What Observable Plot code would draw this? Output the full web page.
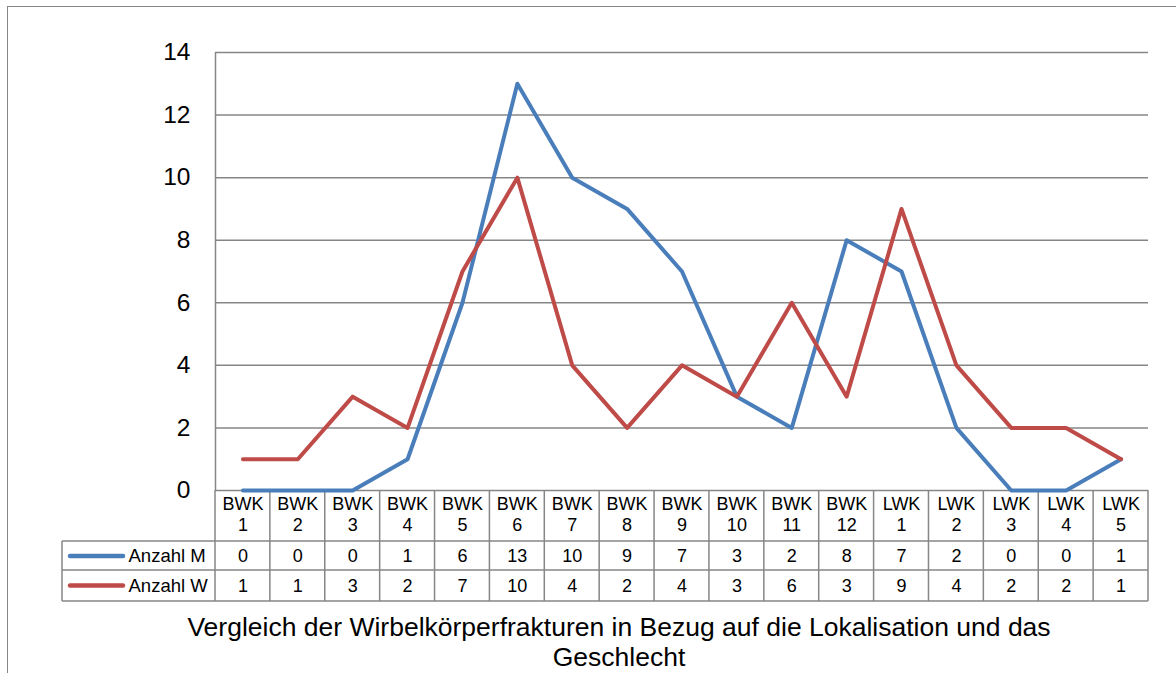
<!DOCTYPE html>
<html>
<head>
<meta charset="utf-8">
<script src="https://cdn.jsdelivr.net/npm/d3@7"></script>
<script src="https://cdn.jsdelivr.net/npm/@observablehq/plot@0.6"></script>
<style>
  body { margin: 0; background: #fff; font-family: "Liberation Sans", Arial, sans-serif; }
  #wrap { position: relative; width: 1176px; height: 673px; overflow: hidden; }
  #border { position: absolute; left: 7px; top: 6px; width: 1200px; height: 700px;
            border-top: 1px solid #868686; border-left: 1px solid #868686; }
  #chart { position: absolute; left: 0; top: 0; }
  #title { position: absolute; left: 619px; top: 612px; transform: translateX(-50%); white-space: nowrap;
           text-align: center; font-size: 26.5px; line-height: 30px; color: #000; }
</style>
</head>
<body>
<div id="wrap">
  <div id="border"></div>
  <div id="chart"></div>
  <div id="title">Vergleich der Wirbelkörperfrakturen in Bezug auf die Lokalisation und das<br>Geschlecht</div>
</div>
<script>
const categories = ["BWK\n1","BWK\n2","BWK\n3","BWK\n4","BWK\n5","BWK\n6","BWK\n7","BWK\n8","BWK\n9","BWK\n10","BWK\n11","BWK\n12","LWK\n1","LWK\n2","LWK\n3","LWK\n4","LWK\n5"];
const anzahlM = [0,0,0,1,6,13,10,9,7,3,2,8,7,2,0,0,1];
const anzahlW = [1,1,3,2,7,10,4,2,4,3,6,3,9,4,2,2,1];
const seriesNames = ["Anzahl M", "Anzahl W"];
const seriesColors = ["#4a7ebb", "#be4b48"];
const yTicks = [0,2,4,6,8,10,12,14];

const rows = categories.map((c, i) => ({i, c, m: anzahlM[i], w: anzahlW[i]}));
const grid = "#868686";
const headerH = 51, rowH1 = 29, rowH2 = 31, legendW = 153;

const tableGrid = (index, {x, y}) => {
  const y0 = y(0);
  const r1 = y0 + headerH, r2 = r1 + rowH1, r3 = r2 + rowH2;
  const xL = x(0) - legendW, xR = x(categories.length);
  const g = d3.create("svg:g").attr("fill", "none");
  const gl = g.append("g").attr("stroke", grid).attr("stroke-width", 1.5);
  for (let k = 0; k <= categories.length; k++) {
    gl.append("line").attr("x1", x(k)).attr("x2", x(k)).attr("y1", y0).attr("y2", r3);
  }
  gl.append("line").attr("x1", xL).attr("x2", xL).attr("y1", r1).attr("y2", r3);
  for (const yy of [r1, r2, r3]) {
    gl.append("line").attr("x1", xL).attr("x2", xR).attr("y1", yy).attr("y2", yy);
  }
  // legend swatches
  [r1 + rowH1 / 2 + 0.5, r2 + rowH2 / 2].forEach((yy, k) => {
    g.append("line").attr("x1", xL + 8).attr("x2", xL + 61).attr("y1", yy).attr("y2", yy)
      .attr("stroke", seriesColors[k]).attr("stroke-width", 4.5).attr("stroke-linecap", "round");
  });
  return g.node();
};

const chart = Plot.plot({
  width: 1176,
  height: 615,
  marginLeft: 215,
  marginRight: 28,
  marginTop: 52,
  marginBottom: 125,
  style: {fontFamily: "'Liberation Sans', Arial, sans-serif", background: "transparent", color: "#000"},
  x: {type: "linear", domain: [0, categories.length], axis: null},
  y: {domain: [0, 14], axis: null},
  marks: [
    Plot.ruleY(yTicks, {stroke: grid, strokeWidth: 1.5, strokeOpacity: 1}),
    Plot.ruleX([0], {y1: 0, y2: 14, stroke: grid, strokeWidth: 1.5}),
    Plot.axisY({ticks: yTicks, tickSize: 0, tickPadding: 25, fontSize: 24.5, label: null}),
    tableGrid,
    Plot.text(rows, {x: d => d.i + 0.5, y: 0, text: "c", dy: 23, fontSize: 18, lineHeight: 1.2, lineAnchor: "middle"}),
    Plot.text(rows, {x: d => d.i + 0.5, y: 0, text: d => String(d.m), dy: 66, fontSize: 18}),
    Plot.text(rows, {x: d => d.i + 0.5, y: 0, text: d => String(d.w), dy: 96, fontSize: 18}),
    Plot.text([seriesNames[0]], {x: 0, y: 0, text: d => d, dy: 66, dx: -87, textAnchor: "start", fontSize: 18.5}),
    Plot.text([seriesNames[1]], {x: 0, y: 0, text: d => d, dy: 96, dx: -87, textAnchor: "start", fontSize: 18.5}),
    Plot.line(rows, {x: d => d.i + 0.5, y: "m", stroke: seriesColors[0], strokeWidth: 4, strokeLinejoin: "round"}),
    Plot.line(rows, {x: d => d.i + 0.5, y: "w", stroke: seriesColors[1], strokeWidth: 4, strokeLinejoin: "round"})
  ]
});
document.getElementById("chart").appendChild(chart);
</script>
</body>
</html>
